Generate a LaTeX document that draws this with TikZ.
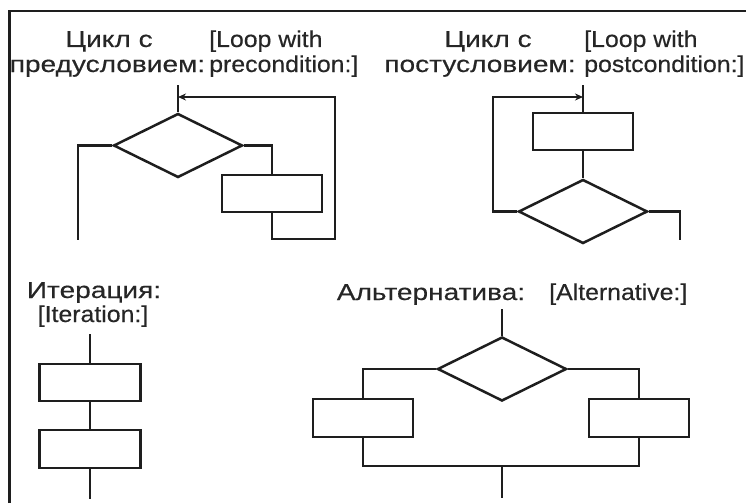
\documentclass[tikz,border=0pt]{standalone}
\usepackage{fontspec}
\setmainfont{Liberation Sans}[FakeStretch=1.08,FakeBold=0.4]
\newfontfamily\rufont{Liberation Sans}[FakeStretch=1.22,FakeBold=0.4]
\usetikzlibrary{shapes.geometric,arrows.meta}
\definecolor{ink}{HTML}{1e1e1e}
\definecolor{txt}{HTML}{262626}
\begin{document}
\begin{tikzpicture}[x=1pt,y=-1pt,>={Stealth[length=8pt,width=7pt]},line width=2.5pt,
	blok/.style={draw=ink,rectangle,minimum width=100pt,minimum height=37pt,inner sep=0pt},
	uslovie/.style={draw=ink,diamond,minimum width=129pt,minimum height=64pt,inner sep=0pt},
	lbl/.style={anchor=base,text=txt,inner sep=0pt,font=\fontsize{23}{25}\selectfont},
	lblru/.style={lbl,font=\fontsize{23}{25}\rufont},
	lblw/.style={lbl,anchor=base west}]
	\useasboundingbox (0,0) rectangle (746,503);
	\draw[ink] (9.5,503)--(9.5,11)--(746,11);
	\node[lblru] (ruPreA) at (109,47) {Цикл с};
	\node[lblru] (ruPreB) at (107.5,72) {предусловием:};
	\node[lblw] (enPreA) at (208,47) {[Loop with};
	\node[lblw] (enPreB) at (208,72) {precondition:]};
	\node[lblru] (ruPostA) at (488,47) {Цикл с};
	\node[lblru] (ruPostB) at (480,72) {постусловием:};
	\node[lblw] (enPostA) at (583,47) {[Loop with};
	\node[lblw] (enPostB) at (583,72) {postcondition:]};
	\node[lblru] (ruIt) at (94,298) {Итерация:};
	\node[lbl] (enIt) at (93,322) {[Iteration:]};
	\node[lblru] (ruAlt) at (431,300) {Альтернатива:};
	\node[lblw] (enAlt) at (548,300) {[Alternative:]};
	\coordinate (inPre) at (178,85);
	\coordinate (jPre) at (178,97);
	\coordinate (retPre) at (335,239);
	\coordinate (outPre) at (78,240);
	\node[uslovie] (dPre) at (178,145.5) {};
	\node[blok] (bPre) at (272,193.5) {};
	\draw[ink] (inPre)--(dPre.north);
	\draw[ink] (dPre.west)-|(outPre);
	\draw[ink] (dPre.east)-|(bPre.north);
	\draw[ink,->] (bPre.south)|-(retPre)|-(jPre);
	\coordinate (inPost) at (583,85);
	\coordinate (jPost) at (583,97);
	\coordinate (retPost) at (493,97);
	\coordinate (outPost) at (680,240);
	\node[blok] (bPost) at (583,131.5) {};
	\node[uslovie] (dPost) at (583,211.5) {};
	\draw[ink] (inPost)--(bPost.north) (bPost.south)--(dPost.north);
	\draw[ink,->] (dPost.west)-|(retPost)--(jPost);
	\draw[ink] (dPost.east)-|(outPost);
	\coordinate (inIt) at (90,334);
	\coordinate (outIt) at (90,499);
	\node[blok,minimum width=101pt] (bItA) at (90,382.5) {};
	\node[blok,minimum width=101pt,minimum height=38pt] (bItB) at (90,449) {};
	\draw[ink] (inIt)--(bItA.north) (bItA.south)--(bItB.north) (bItB.south)--(outIt);
	\coordinate (inAlt) at (502,309);
	\coordinate (mAlt) at (502,466);
	\coordinate (outAlt) at (502,498);
	\node[uslovie] (dAlt) at (502,369) {};
	\node[blok,minimum height=38pt] (bAltL) at (363,418) {};
	\node[blok,minimum height=38pt] (bAltR) at (639,418) {};
	\draw[ink] (inAlt)--(dAlt.north);
	\draw[ink] (dAlt.west)-|(bAltL.north) (dAlt.east)-|(bAltR.north);
	\draw[ink] (bAltL.south)|-(mAlt)-|(bAltR.south) (mAlt)--(outAlt);
\end{tikzpicture}
\end{document}
